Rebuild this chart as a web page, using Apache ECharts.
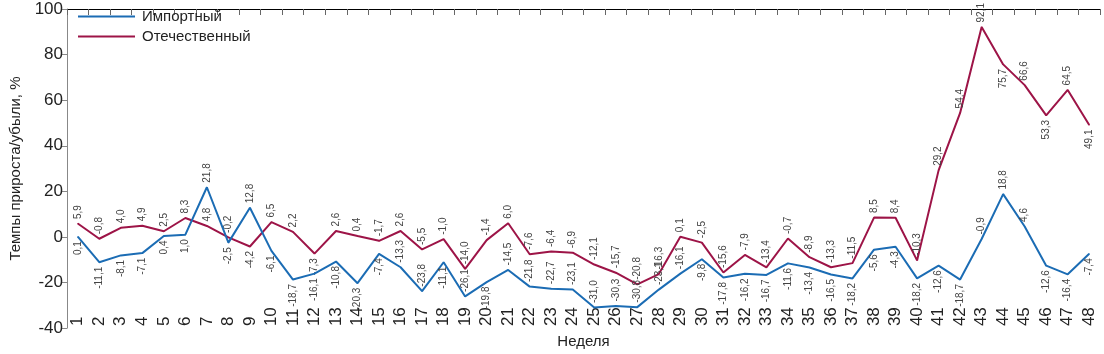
<!DOCTYPE html>
<html>
<head>
<meta charset="utf-8">
<script src="https://cdn.jsdelivr.net/npm/echarts@6/dist/echarts.min.js"></script>
<style>html,body{margin:0;padding:0;background:#fff;}#c{width:1104px;height:354px;}</style>
</head>
<body>
<div id="c"></div>
<script>
const weeks = Array.from({length:48}, (_, i) => String(i + 1));
const importValues = [0.1,-11.1,-8.1,-7.1,0.4,1.0,21.8,-2.5,12.8,-6.1,-18.7,-16.1,-10.8,-20.3,-7.4,-13.3,-23.8,-11.1,-26.1,-19.8,-14.5,-21.8,-22.7,-23.1,-31.0,-30.3,-30.8,-23.1,-16.1,-9.8,-17.8,-16.2,-16.7,-11.6,-13.4,-16.5,-18.2,-5.6,-4.3,-18.2,-12.6,-18.7,-0.9,18.8,4.6,-12.6,-16.4,-7.4];
const domesticValues = [5.9,-0.8,4.0,4.9,2.5,8.3,4.8,-0.2,-4.2,6.5,2.2,-7.3,2.6,0.4,-1.7,2.6,-5.5,-1.0,-14.0,-1.4,6.0,-7.6,-6.4,-6.9,-12.1,-15.7,-20.8,-16.3,0.1,-2.5,-15.6,-7.9,-13.4,-0.7,-8.9,-13.3,-11.5,8.5,8.4,-10.3,29.2,54.4,92.1,75.7,66.6,53.3,64.5,49.1];
const seriesNames = ['Импортный', 'Отечественный'];
const yTicks = {min: -40, max: 100, interval: 20};

// label placement (style): weeks where import label sits above, domestic label below
const importAbove = new Set([7,9,16,17,19,21,22,23,24,25,26,27,28,29,43,44,45]);
const domesticBelow = new Set([9,12,44,46,48]);

const FONT = '"Liberation Sans", Arial, sans-serif';
const NARROW = '"Liberation Sans Narrow", "Liberation Sans", Arial, sans-serif';
const fmt = p => Number(p.value).toFixed(1).replace('.', ',');
const baseLabel = {show: true, rotate: 90, verticalAlign: 'middle', distance: 4, fontSize: 10, color: '#444', fontFamily: NARROW, formatter: fmt};
const labelAbove = Object.assign({}, baseLabel, {position: 'top', align: 'left'});
const labelBelow = Object.assign({}, baseLabel, {position: 'bottom', align: 'right'});

function items(vals, isAbove) {
  return vals.map((v, i) => ({value: v, label: isAbove(i + 1) ? labelAbove : labelBelow}));
}

const chart = echarts.init(document.getElementById('c'));
chart.setOption({
  animation: false,
  textStyle: {fontFamily: FONT},
  grid: {left: 57, right: 4, top: 9, bottom: 17, containLabel: false},
  legend: {
    orient: 'vertical', left: 73, top: 4, itemWidth: 57, itemHeight: 2, itemGap: 5,
    textStyle: {fontSize: 15, color: '#222', fontFamily: FONT, padding: [0, 0, 0, 2]},
    data: seriesNames.map(n => ({name: n, icon: 'rect'}))
  },
  xAxis: [
    {
      type: 'category', data: weeks, position: 'bottom', boundaryGap: true,
      axisLine: {show: false}, axisTick: {show: false},
      axisLabel: {inside: true, interval: 0, rotate: 90, fontSize: 17, color: '#222', margin: 2, fontFamily: FONT},
      name: 'Неделя', nameLocation: 'middle', nameGap: 1,
      nameTextStyle: {fontSize: 15, color: '#222', verticalAlign: 'top'}
    },
    {
      type: 'category', data: weeks, position: 'top', boundaryGap: true,
      axisLine: {show: true, onZero: true, lineStyle: {color: '#000', width: 1}},
      axisTick: {show: true, inside: true, length: 6, lineStyle: {color: '#666'}},
      axisLabel: {show: false}
    }
  ],
  yAxis: {
    type: 'value', min: yTicks.min, max: yTicks.max, interval: yTicks.interval,
    axisLine: {show: true, lineStyle: {color: '#888'}},
    axisTick: {show: true, length: 5, lineStyle: {color: '#888'}},
    splitLine: {show: false},
    axisLabel: {fontSize: 17, color: '#222', margin: 4},
    name: 'Темпы прироста/убыли, %', nameLocation: 'middle', nameGap: 44,
    nameTextStyle: {fontSize: 15, color: '#222'}
  },
  series: [
    {
      name: seriesNames[0], type: 'line', xAxisIndex: 0, data: items(importValues, w => importAbove.has(w)),
      symbol: 'circle', symbolSize: 1, showSymbol: true,
      lineStyle: {color: '#1b6cb4', width: 2}, itemStyle: {color: '#1b6cb4'},
      label: baseLabel, labelLayout: {hideOverlap: false}, z: 3
    },
    {
      name: seriesNames[1], type: 'line', xAxisIndex: 0, data: items(domesticValues, w => !domesticBelow.has(w)),
      symbol: 'circle', symbolSize: 1, showSymbol: true,
      lineStyle: {color: '#9d1447', width: 2}, itemStyle: {color: '#9d1447'},
      label: baseLabel, labelLayout: {hideOverlap: false}, z: 2
    }
  ]
});
</script>
</body>
</html>
